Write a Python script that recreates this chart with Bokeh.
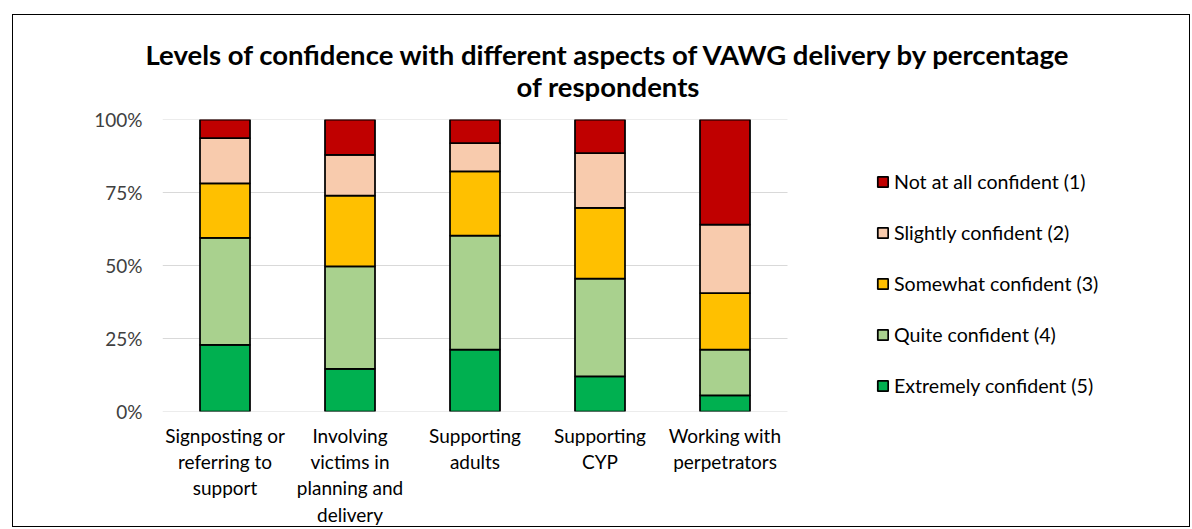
from bokeh.plotting import figure
from bokeh.models import ColumnDataSource, Legend, LegendItem, Title, FixedTicker, Range1d
from bokeh.embed import file_html
from bokeh.resources import INLINE

categories = ["Signposting or\nreferring to\nsupport",
              "Involving\nvictims in\nplanning and\ndelivery",
              "Supporting\nadults",
              "Supporting\nCYP",
              "Working with\nperpetrators"]
extremely = [22.8, 14.6, 21.2, 12.0, 5.5]
quite = [36.7, 35.1, 39.0, 33.5, 15.7]
somewhat = [18.6, 24.2, 22.0, 24.2, 19.3]
slightly = [15.5, 14.0, 9.7, 18.8, 23.5]
not_at_all = [6.4, 12.1, 8.1, 11.5, 36.0]

series_names = ["Extremely confident (5)", "Quite confident (4)", "Somewhat confident (3)",
                "Slightly confident (2)", "Not at all confident (1)"]
series_keys = ["extremely", "quite", "somewhat", "slightly", "not_at_all"]
colors = ["#00B050", "#A9D18E", "#FFC000", "#F8CBAD", "#C00000"]

y_ticks = [0, 25, 50, 75, 100]
y_tick_labels = ["0%", "25%", "50%", "75%", "100%"]

title_line1 = "Levels of confidence with different aspects of VAWG delivery by percentage"
title_line2 = "of respondents"

n = len(categories)
xpos = [i + 1 for i in range(n)]

data = dict(x=xpos, extremely=extremely, quite=quite, somewhat=somewhat,
            slightly=slightly, not_at_all=not_at_all)
source = ColumnDataSource(data)

FONT = "Lato"
W, H = 1178, 513
ML, MT, MR, MB = 149, 104, 20, 117
frame_w = W - ML - MR
cat_px = 125.0  # pixel width of one category slot

p = figure(x_range=Range1d(0.5, 0.5 + frame_w / cat_px), y_range=Range1d(0, 100),
           width=W, height=H, output_backend="svg", toolbar_location=None,
           min_border_left=ML, min_border_top=MT, min_border_right=MR, min_border_bottom=MB)
p.outline_line_color = None
p.styles = {"border": "1px solid #000000", "margin-left": "12px", "margin-top": "14px"}

# horizontal gridlines only across the category area
grid_src = ColumnDataSource(dict(x0=[0.5] * len(y_ticks), x1=[n + 0.5] * len(y_ticks), y=y_ticks))
p.segment(x0="x0", x1="x1", y0="y", y1="y", source=grid_src, line_color="#D9D9D9", line_width=1.2)

renderers = p.vbar_stack(series_keys, x="x", width=0.4, source=source, color=colors,
                         line_color="black", line_width=1.75)

items = [LegendItem(label=series_names[i], renderers=[renderers[i]]) for i in range(5)][::-1]
legend = Legend(items=items, location=(714, 14), padding=0, margin=0, spacing=28,
                glyph_width=13, glyph_height=13, label_height=22, label_standoff=5,
                label_text_font=FONT, label_text_font_size="19.6px", label_text_color="#000000",
                border_line_alpha=0, background_fill_alpha=0)
p.add_layout(legend, "center")

p.xgrid.grid_line_color = None
p.ygrid.grid_line_color = None

p.yaxis.ticker = FixedTicker(ticks=y_ticks)
p.yaxis.major_label_overrides = dict(zip(y_ticks, y_tick_labels))
p.yaxis.axis_line_color = None
p.yaxis.major_tick_line_color = None
p.yaxis.major_tick_out = 0
p.yaxis.minor_tick_line_color = None
p.yaxis.major_label_standoff = 20
p.yaxis.major_label_text_font = FONT
p.yaxis.major_label_text_font_size = "19px"
p.yaxis.major_label_text_color = "#404040"

p.xaxis.ticker = FixedTicker(ticks=xpos)
p.xaxis.major_label_overrides = dict(zip(xpos, categories))
p.xaxis.axis_line_color = None
p.xaxis.major_tick_line_color = None
p.xaxis.major_tick_out = 0
p.xaxis.minor_tick_line_color = None
p.xaxis.major_label_standoff = 12
p.xaxis.major_label_text_font = FONT
p.xaxis.major_label_text_font_size = "19px"
p.xaxis.major_label_text_color = "#000000"
p.xaxis.major_label_text_line_height = 1.15

t2 = Title(text=title_line2 + "\n", align="left", offset=354, standoff=0, text_font=FONT,
           text_font_size="27.5px", text_font_style="bold", text_color="#000000",
           text_line_height=0.5)
t1 = Title(text=title_line1, align="left", offset=-17, standoff=-6, text_font=FONT,
           text_font_size="27.5px", text_font_style="bold", text_color="#000000")
p.add_layout(t2, "above")
p.add_layout(t1, "above")

open("out.html", "w").write(file_html(p, INLINE))
